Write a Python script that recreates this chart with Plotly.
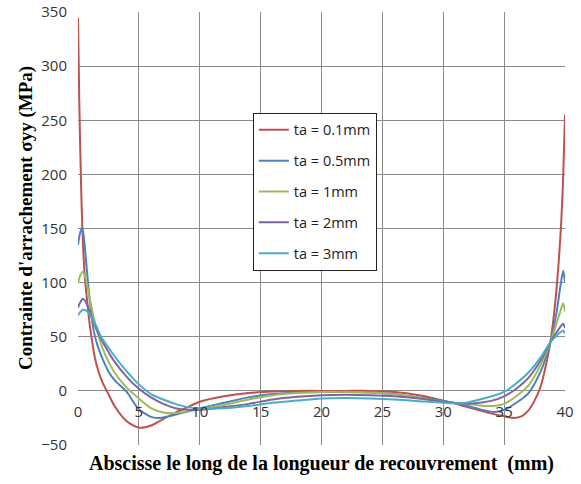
import plotly.graph_objects as go

# Peel stress along the overlap for several adhesive thicknesses
x_01 = [0, 0.1, 0.2, 0.3, 0.45, 0.6, 0.8, 1.0, 1.5, 2.0, 2.5, 3, 4, 5, 6, 7, 8, 9, 10,
        12, 14, 16, 18, 20, 22, 24, 26, 28, 30, 32, 34, 35, 35.8, 36.5, 37, 37.5, 38, 38.4,
        38.8, 39.2, 39.5, 39.7, 39.85, 40]
y_01 = [345, 270, 215, 170, 125, 100, 78, 58, 25, 8, -3, -14, -28, -34, -32, -26, -20, -15, -10,
        -5, -2, -0.5, 0, 0, 0, 0, -1, -4, -9, -15, -21, -23.5, -25, -23, -18, -9, 4, 22,
        45, 82, 122, 158, 198, 255]

x_05 = [0, 0.15, 0.35, 0.5, 0.7, 1.0, 1.3, 1.6, 2, 2.5, 3, 4, 5, 6, 6.5, 7, 8, 9, 10,
        12, 14, 16, 18, 20, 22, 24, 26, 28, 30, 32, 33, 34.2, 35, 36, 37, 38, 38.8,
        39.3, 39.6, 39.85, 40]
y_05 = [135, 145, 151, 140, 115, 80, 55, 42, 30, 18, 10, -1, -17, -24, -25, -24.5, -22, -19, -16,
        -11, -6, -3, -1.5, -1, -1, -1.5, -3, -6, -9, -14, -17, -19.5, -17.5, -11, -2, 18, 45,
        72, 95, 111, 100]

x_1 = [0, 0.2, 0.4, 0.6, 0.8, 1.0, 1.3, 1.7, 2, 2.5, 3, 4, 5, 6, 7, 8, 9, 10,
       12, 14, 16, 18, 20, 22, 24, 26, 28, 30, 32, 33, 34, 35, 36, 37, 38, 38.8,
       39.3, 39.6, 39.85, 40]
y_1 = [100, 107, 110, 105, 95, 83, 67, 50, 40, 27, 17, 3, -7, -16, -20, -20.5, -19, -17,
       -13, -8, -4, -2, -1, -1, -1.5, -3, -6, -10, -12, -13.5, -14, -12, -5, 5, 24, 45,
       62, 73, 81, 73]

x_2 = [0, 0.2, 0.4, 0.6, 0.8, 1.0, 1.4, 1.8, 2.5, 3, 4, 5, 6, 7, 8, 9, 10,
       12, 14, 16, 18, 20, 22, 24, 26, 28, 30, 32, 33, 34, 35, 36, 37, 38, 38.8,
       39.3, 39.6, 39.85, 40]
y_2 = [77, 82, 85, 83, 78, 72, 60, 50, 36, 27, 13, 2, -6, -12, -16, -17.5, -17.5,
       -15, -12, -8, -5.5, -4, -3.5, -4, -5, -7, -10, -12, -11, -9, -5, 2, 12, 28, 45,
       54, 59, 62, 58]

x_3 = [0, 0.2, 0.4, 0.6, 0.8, 1.0, 1.5, 1.9, 2.5, 3, 4, 5, 6, 7, 8, 9, 10,
       12, 14, 16, 18, 20, 22, 24, 26, 28, 30, 31.5, 33, 34, 35, 36, 37, 38, 38.8,
       39.3, 39.6, 39.85, 40]
y_3 = [70, 73, 75, 74.5, 73, 70, 60, 50, 40, 32, 18, 6, -3, -8, -12, -15, -16,
       -16, -14, -11, -9, -7, -6.5, -7, -8, -9.5, -11, -11.5, -8, -5, -1, 7, 17, 31, 45,
       51, 54, 55.5, 53]

series_names = ["ta = 0.1mm", "ta = 0.5mm", "ta = 1mm", "ta = 2mm", "ta = 3mm"]
series_x = [x_01, x_05, x_1, x_2, x_3]
series_y = [y_01, y_05, y_1, y_2, y_3]
colors = ["#C0504D", "#4F81BD", "#9BBB59", "#8064A2", "#4BACC6"]

x_ticks = [0, 5, 10, 15, 20, 25, 30, 35, 40]
y_ticks = [-50, 0, 50, 100, 150, 200, 250, 300, 350]

fig = go.Figure()
for name, xs, ys, c in zip(series_names, series_x, series_y, colors):
    fig.add_trace(go.Scatter(
        x=xs, y=ys, name=name, mode="lines", legendgroup=name,
        line=dict(color=c, width=2, shape="spline", smoothing=0.7),
    ))

grid = "#8a8a8a"
x_title_font = dict(family="Liberation Serif", size=20, color="black", weight="bold")
y_title_font = dict(family="Liberation Serif", size=19, color="black", weight="bold")
fig.update_layout(
    width=581, height=484,
    margin=dict(l=78, r=16, t=12, b=39, autoexpand=False),
    paper_bgcolor="white", plot_bgcolor="white",
    showlegend=True,
    legend=dict(
        x=0.359, y=0.767, xanchor="left", yanchor="top",
        bgcolor="white", bordercolor="#222", borderwidth=1,
        font=dict(family="Open Sans", size=14.5, color="#222"),
        tracegroupgap=9,
    ),
    xaxis=dict(
        range=[0, 40], tickvals=x_ticks, showgrid=True, gridcolor=grid, gridwidth=1,
        zeroline=False, showline=False, ticks="", automargin=False,
        anchor="free", position=0.125,
        ticklabelstandoff=10,
        tickfont=dict(family="Open Sans", size=15, color="#333"),
        title=dict(
            text="Abscisse le long de la longueur de recouvrement  (mm)",
            font=x_title_font,
            standoff=36,
        ),
    ),
    yaxis=dict(
        range=[-50, 350], tickvals=y_ticks, showgrid=True, gridcolor=grid, gridwidth=1,
        zeroline=False, showline=False, ticks="", automargin=False,
        ticklabelstandoff=10,
        tickfont=dict(family="Open Sans", size=15, color="#333"),
    ),
    annotations=[dict(
        text="Contrainte d'arrachement σyy (MPa)",
        xref="paper", yref="paper", x=-0.108, y=0.525,
        xanchor="center", yanchor="middle", textangle=-90, showarrow=False,
        font=y_title_font,
    )],
)

fig.write_html("out.html")
